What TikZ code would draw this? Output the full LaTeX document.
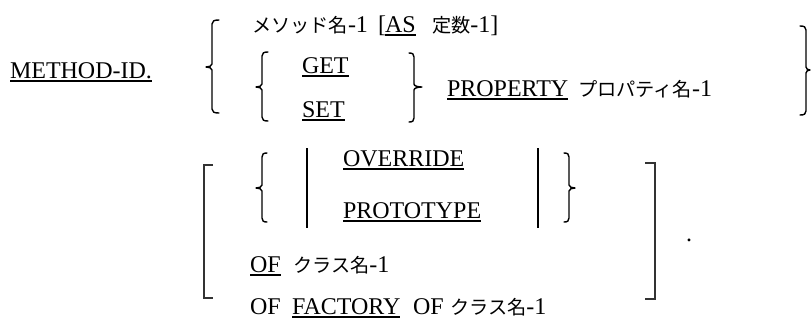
\documentclass[tikz,border=0pt]{standalone}
\usepackage{fontspec}
\setmainfont{Liberation Serif}
\newfontfamily\jp{Noto Sans CJK JP}[Scale=0.8]
\newcommand{\ulx}[1]{\setbox0\hbox{#1}\rlap{\rule[-3.5pt]{\wd0}{1.4pt}}\box0}
% #1 line x, #2 top y, #3 cusp y, #4 bottom y, #5 hook dx, #6 cusp dx
\newcommand{\mybrace}[6]{%
  \draw[brace] ({#1+#5},{#2}) .. controls ({#1+0.3*#5},{#2}) and ({#1},{#2+1}) .. ({#1},{#2+4})
    -- ({#1},{#3-3}) .. controls ({#1},{#3-1}) and ({#1+0.5*#6},{#3}) .. ({#1+#6},{#3})
    .. controls ({#1+0.5*#6},{#3}) and ({#1},{#3+1}) .. ({#1},{#3+3})
    -- ({#1},{#4-4}) .. controls ({#1},{#4-1}) and ({#1+0.3*#5},{#4}) .. ({#1+#5},{#4});}
\tikzset{
  txt/.style={anchor=base west, inner sep=0pt, outer sep=0pt, font=\fontsize{24}{28}\selectfont},
  brace/.style={line width=1.4pt, line cap=round, line join=round},
  bar/.style={line width=1.5pt},
  bracket/.style={line width=2pt, draw=black!80}
}
\begin{document}
\begin{tikzpicture}[x=1pt,y=-1pt]
\useasboundingbox (0,0) rectangle (812,322);
% texts
\node[txt] (mid) at (10,78) {\ulx{METHOD-ID.}};
\node[txt] (mname) at (252,32) {{\jp メソッド名}-1};
\node[txt] (lbk) at (378,32) {[};
\node[txt] (as) at (385,32) {\ulx{AS}};
\node[txt] (const) at (432,32) {{\jp 定数}-1]};
\node[txt] (get) at (302,73) {\ulx{GET}};
\node[txt] (set) at (302,117) {\ulx{SET}};
\node[txt] (prop) at (447,96) {\ulx{PROPERTY}};
\node[txt] (pname) at (578,96) {{\jp プロパティ名}-1};
\node[txt] (ovr) at (343,166) {\ulx{OVERRIDE}};
\node[txt] (proto) at (343,218) {\ulx{PROTOTYPE}};
\node[txt] (of1) at (250,272) {\ulx{OF}};
\node[txt] (cls1) at (293,272) {{\jp クラス名}-1};
\node[txt] (of2) at (250,314) {OF};
\node[txt] (fac) at (292,314) {\ulx{FACTORY}};
\node[txt] (of3) at (413,314) {OF};
\node[txt] (cls2) at (450,314) {{\jp クラス名}-1};
\node[txt] (dot) at (686,241) {.};
% braces
\mybrace{212}{20}{67}{113}{7}{-6}
\mybrace{262}{52}{87}{121}{6}{-6}
\mybrace{414}{53}{87}{122}{-5}{8}
\mybrace{806}{26}{70}{115}{-6}{4}
\mybrace{262}{153}{188}{222}{5}{-6}
\mybrace{569}{153}{188}{222}{-5}{6}
% bars
\draw[bar] (307,148) -- (307,228);
\draw[bar] (538,148) -- (538,228);
% brackets
\draw[bracket] (213,165) -- (204,165) -- (204,298) -- (213,298);
\draw[bracket] (645,163) -- (655,163) -- (655,299) -- (645,299);
\end{tikzpicture}
\end{document}
